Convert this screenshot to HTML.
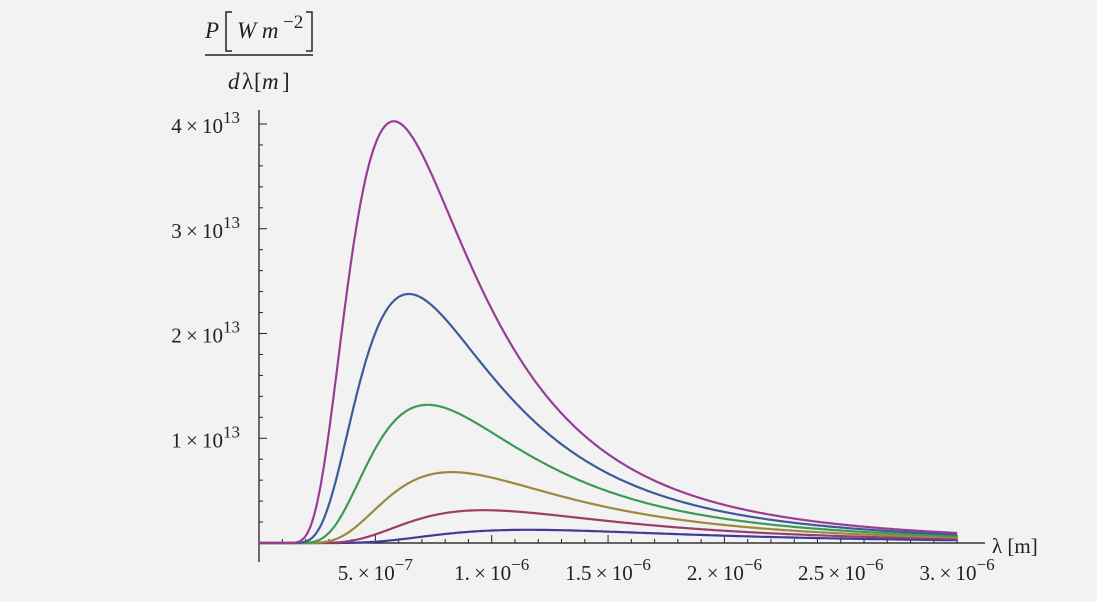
<!DOCTYPE html>
<html><head><meta charset="utf-8">
<style>
body{margin:0;background:#f2f2f2;}
svg{display:block;font-family:"Liberation Serif",serif;}
</style></head>
<body>
<svg id="chart" width="1097" height="602">
<rect width="1097" height="602" fill="#f2f2f2"/>
<g id="axes"></g>
<g id="series"></g>
<g fill="#222" font-style="italic" font-size="23">
<text x="205" y="38">P</text>
<path d="M232 12 H226 V51 H232" fill="none" stroke="#223" stroke-width="1.5"/>
<text x="237" y="38">W m</text>
<text x="283" y="28" font-style="normal" font-size="19">−2</text>
<path d="M306 12 H312 V51 H306" fill="none" stroke="#223" stroke-width="1.5"/>
<line x1="205" y1="55" x2="313" y2="55" stroke="#222" stroke-width="1.5"/>
<text x="228" y="89">d</text>
<text x="242" y="89" font-style="normal">λ</text>
<text x="254" y="89" font-style="normal">[</text>
<text x="262" y="89">m</text>
<text x="282" y="89" font-style="normal">]</text>
</g>
<text x="992" y="553" font-size="21" fill="#222">λ [m]</text>
</svg>
<script>
const temperatures=[2500,3000,3500,4000,4500,5000];
const seriesColors=["#3d3d99","#993d6b","#998a3d","#3d9957","#3d5a99","#993d94"];
const xTickValues=[5e-7,1e-6,1.5e-6,2e-6,2.5e-6,3e-6];
const xTickMantissa=["5.","1.","1.5","2.","2.5","3."];
const xTickExp=["−7","−6","−6","−6","−6","−6"];
const yTickValues=[1e13,2e13,3e13,4e13];
const yTickMantissa=["1","2","3","4"];
const NS="http://www.w3.org/2000/svg";
const x0=259,y0=543;
const xs=v=>x0+v/1e-6*232.7;
const ys=v=>y0-v/1e13*104.75;
function mk(t,a,p){const e=document.createElementNS(NS,t);for(const k in a)e.setAttribute(k,a[k]);p.appendChild(e);return e;}
const ax=document.getElementById('axes');
const xl=mk('line',{x1:259,y1:y0,x2:985,y2:y0,stroke:'#111','stroke-width':1.2},ax);


const yl=mk('line',{x1:x0,y1:110,x2:x0,y2:562,stroke:'#111','stroke-width':1.2},ax);


for(let i=1;i<=30;i++){const v=i*1e-7,maj=i%5==0;mk('line',{x1:xs(v),x2:xs(v),y1:y0,y2:y0-(maj?8:4),stroke:'#222'},ax);}
for(let i=1;i<=20;i++){const v=i*0.2e13,maj=i%5==0;mk('line',{x1:x0,x2:x0+(maj?8:4),y1:ys(v),y2:ys(v),stroke:'#222'},ax);}
xTickValues.forEach((v,i)=>{
 const t=mk('text',{x:xs(v),y:580,'text-anchor':'middle','font-size':21,fill:'#222'},ax);
 
 
 t.innerHTML=xTickMantissa[i]+'\u2009×\u200910<tspan dy="-10" font-size="17">'+xTickExp[i]+'</tspan>';
});
yTickValues.forEach((v,i)=>{
 const t=mk('text',{x:240,y:ys(v)+9,'text-anchor':'end','font-size':21,fill:'#222'},ax);
 
 
 t.innerHTML=yTickMantissa[i]+'\u2009×\u200910<tspan dy="-10" font-size="17">13</tspan>';
});
const h=6.626e-34,c=2.998e8,k=1.381e-23;
function planck(l,T){if(l<=0)return 0;const e=h*c/(l*k*T);if(e>700)return 0;return 2*Math.PI*h*c*c/Math.pow(l,5)/(Math.exp(e)-1);}
const sg=document.getElementById('series');
temperatures.forEach((T,i)=>{
 let d='';
 for(let j=0;j<=600;j++){const l=3e-6*j/600;d+=(j?'L':'M')+xs(l).toFixed(1)+' '+ys(planck(l,T)).toFixed(1);}
 const p=mk('path',{d:d,fill:'none',stroke:seriesColors[i],'stroke-width':2.2},sg);
 
 
});
</script>
</body></html>
